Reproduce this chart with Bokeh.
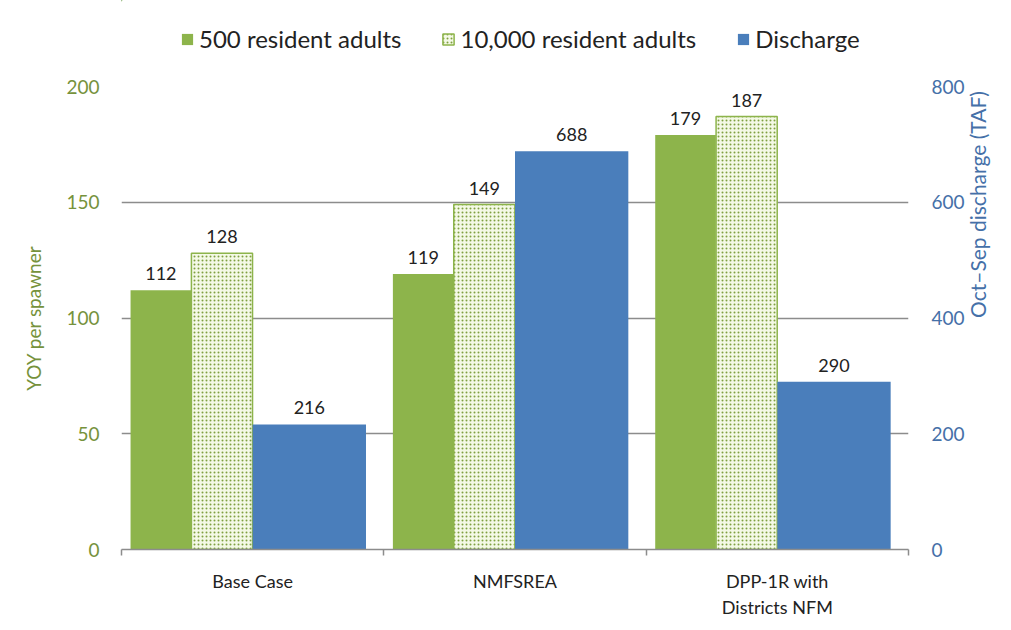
import math
from bokeh.plotting import figure
from bokeh.layouts import column
from bokeh.models import Range1d, LinearAxis, FixedTicker, Legend, LegendItem, ColumnDataSource
from bokeh.core.properties import value
from bokeh.embed import file_html
from bokeh.resources import INLINE

# ---- data ----
categories = ["Base Case", "NMFSREA", "DPP-1R with\nDistricts NFM"]
yoy_500 = [112, 119, 179]
yoy_10000 = [128, 149, 187]
discharge = [216, 688, 290]
series_names = ["500 resident adults", "10,000 resident adults", "Discharge"]
left_ticks = [0, 50, 100, 150, 200]
right_ticks = [0, 200, 400, 600, 800]

# ---- style ----
FONT = "Lato"
GREEN = "#8DB44B"
BLUE = "#4A7EBB"
GRID = "#8C8C8C"
LEFT_TXT = "#76923C"
RIGHT_TXT = "#4570A8"
S1 = dict(fill_color=GREEN, line_color=None)
S2 = dict(fill_color="#F4F9E6", line_color=GREEN, line_width=1.5, hatch_pattern="dot",
          hatch_color="#7FA040", hatch_scale=4, hatch_weight=2.5)
S3 = dict(fill_color=BLUE, line_color=None)

W, LH, H = 1005, 70, 555

# ---- main chart ----
p = figure(width=W, height=H, output_backend="svg", toolbar_location=None,
           x_range=Range1d(0, len(categories)), y_range=Range1d(0, 200),
           min_border_left=121, min_border_right=95, min_border_top=16,
           min_border_bottom=76)
p.extra_y_ranges = {"q": Range1d(0, 800)}
p.outline_line_color = None
p.background_fill_color = "white"
p.border_fill_color = "white"

centers = [i + 0.5 for i in range(len(categories))]
src = ColumnDataSource(dict(
    x1=[c - 0.350 for c in centers], y1=yoy_500, t1=[str(v) for v in yoy_500],
    x2=[c - 0.117 for c in centers], y2=yoy_10000, t2=[str(v) for v in yoy_10000],
    x3=[c + 0.216 for c in centers], y3=discharge, t3=[str(v) for v in discharge],
))

p.vbar(x="x1", top="y1", width=0.231, source=src, **S1)
p.vbar(x="x2", top="y2", width=0.233, source=src, **S2)
p.vbar(x="x3", top="y3", width=0.432, source=src, y_range_name="q", **S3)

lab = dict(text_font=value(FONT), text_font_size="18px", text_color="#222222",
           text_align="center", text_baseline="bottom", y_offset=-10)
p.text(x="x1", y="y1", text="t1", source=src, **lab)
p.text(x="x2", y="y2", text="t2", source=src, **lab)
p.text(x="x3", y="y3", text="t3", source=src, y_range_name="q", **lab)

# ---- axes ----
xa = p.xaxis[0]
xa.ticker = FixedTicker(ticks=centers, minor_ticks=list(range(len(categories) + 1)))
xa.major_label_overrides = {c: n for c, n in zip(centers, categories)}
xa.major_tick_line_color = None
xa.minor_tick_line_color = GRID
xa.minor_tick_line_width = 1.5
xa.minor_tick_in = 0
xa.minor_tick_out = 6
xa.axis_line_color = GRID
xa.axis_line_width = 1.5
xa.major_label_text_font = FONT
xa.major_label_text_font_size = "18px"
xa.major_label_text_color = "#222222"
xa.major_label_standoff = 14

ya = p.yaxis[0]
ya.ticker = FixedTicker(ticks=left_ticks)
ya.axis_line_color = None
ya.major_tick_line_color = None
ya.minor_tick_line_color = None
ya.major_label_text_font = FONT
ya.major_label_text_font_size = "19px"
ya.major_label_text_color = LEFT_TXT
ya.major_label_standoff = 16
ya.axis_label = "YOY per spawner"
ya.axis_label_text_font = FONT
ya.axis_label_text_font_size = "19px"
ya.axis_label_text_font_style = "normal"
ya.axis_label_text_color = LEFT_TXT
ya.axis_label_standoff = 18

ra = LinearAxis(y_range_name="q", ticker=FixedTicker(ticks=right_ticks))
ra.axis_line_color = None
ra.major_tick_line_color = None
ra.minor_tick_line_color = None
ra.major_label_text_font = FONT
ra.major_label_text_font_size = "19px"
ra.major_label_text_color = RIGHT_TXT
ra.major_label_standoff = 17
ra.axis_label = "Oct\u2013Sep discharge (TAF)"
ra.axis_label_text_font = FONT
ra.axis_label_text_font_size = "21px"
ra.axis_label_text_font_style = "normal"
ra.axis_label_text_color = RIGHT_TXT
ra.axis_label_standoff = 10
ra.axis_label_orientation = math.pi / 2
p.add_layout(ra, "right")

p.xgrid.grid_line_color = None
p.ygrid.ticker = FixedTicker(ticks=left_ticks)
p.ygrid.grid_line_color = GRID
p.ygrid.grid_line_width = 1.5
p.ygrid.level = "underlay"

# ---- legend strip above the chart (same series, entirely outside its visible ranges) ----
lf = figure(width=W, height=LH, output_backend="svg", toolbar_location=None,
            x_range=Range1d(10, 11), y_range=Range1d(-1001, -1000),
            x_axis_location=None, y_axis_location=None, min_border=0)
lf.outline_line_color = None
lf.grid.grid_line_color = None
g1 = lf.vbar(x="x1", top="y1", width=0.231, source=src, **S1)
g2 = lf.vbar(x="x2", top="y2", width=0.233, source=src, **S2)
g3 = lf.vbar(x="x3", top="y3", width=0.432, source=src, **S3)
legend = Legend(items=[LegendItem(label=series_names[0], renderers=[g1]),
                       LegendItem(label=series_names[1], renderers=[g2]),
                       LegendItem(label=series_names[2], renderers=[g3])],
                orientation="horizontal", location=(59, 17),
                glyph_width=14, glyph_height=14, label_standoff=5, spacing=40,
                label_text_font=FONT, label_text_font_size="24px",
                label_text_color="#222222", border_line_color=None,
                background_fill_alpha=0, padding=0, margin=0)
lf.add_layout(legend, "center")

layout = column(lf, p, spacing=0)
open("out.html", "w").write(file_html(layout, INLINE))
